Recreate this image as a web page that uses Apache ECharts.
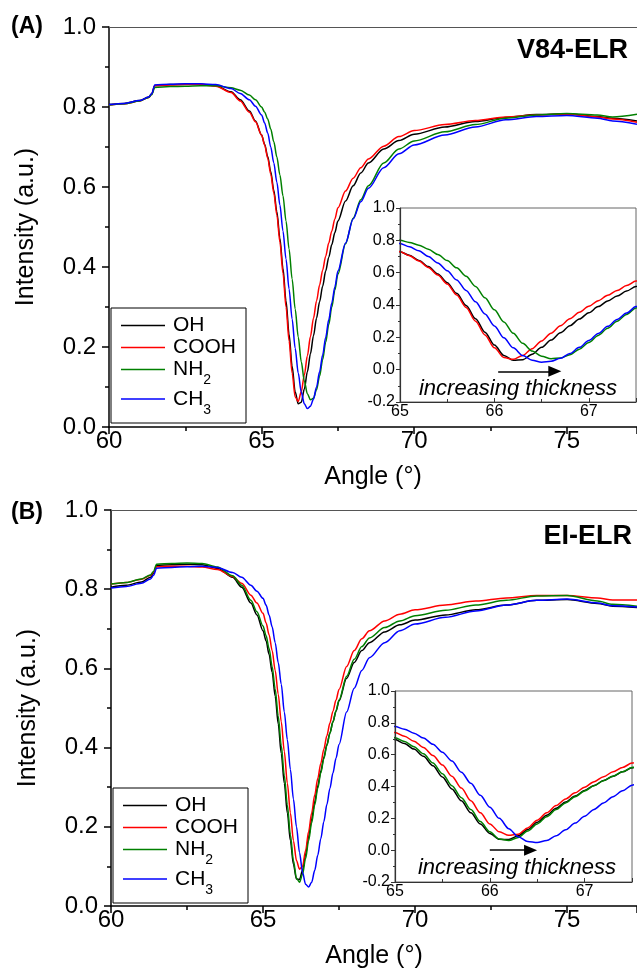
<!DOCTYPE html>
<html>
<head>
<meta charset="utf-8">
<script src="https://cdn.jsdelivr.net/npm/echarts@6/dist/echarts.min.js"></script>
<style>
html, body { margin: 0; padding: 0; background: #fff; }
#chartBox { width: 637px; height: 976px; }
</style>
</head>
<body>
<div id="chartBox"></div>
<script>
// angle grid (deg), dense around the resonance dip
var angles = [60, 60.5, 61, 61.3, 61.4, 61.5, 62, 62.5, 63, 63.5, 64, 64.3, 64.6, 64.8,
  65, 65.1, 65.2, 65.3, 65.4, 65.5, 65.6, 65.7, 65.8, 65.9, 66, 66.1, 66.2, 66.3, 66.4, 66.5,
  66.6, 66.7, 66.8, 66.9, 67, 67.1, 67.2, 67.3, 67.4, 67.5,
  67.75, 68, 68.25, 68.5, 69, 69.5, 70, 71, 72, 73, 74, 75, 76, 76.5, 77.3];

var names = ['OH', 'COOH', 'NH2', 'CH3'];
var colors = ['#000000', '#ff0000', '#008000', '#0000ff'];

// (A) V84-ELR
var ohA = [0.806, 0.809, 0.816, 0.825, 0.833, 0.854, 0.856, 0.857, 0.857, 0.853, 0.838, 0.818, 0.79, 0.765,
  0.73, 0.707, 0.676, 0.638, 0.592, 0.538, 0.472, 0.397, 0.315, 0.232, 0.152, 0.088, 0.058, 0.062, 0.095, 0.138,
  0.183, 0.228, 0.272, 0.313, 0.352, 0.39, 0.424, 0.456, 0.486, 0.515,
  0.565, 0.603, 0.635, 0.66, 0.695, 0.716, 0.732, 0.75, 0.764, 0.774, 0.781, 0.783, 0.776, 0.772, 0.765];
var coohA = [0.805, 0.808, 0.815, 0.824, 0.832, 0.853, 0.855, 0.856, 0.856, 0.852, 0.836, 0.815, 0.787, 0.763,
  0.73, 0.705, 0.672, 0.632, 0.585, 0.53, 0.462, 0.385, 0.3, 0.215, 0.135, 0.075, 0.064, 0.088, 0.13, 0.178,
  0.226, 0.272, 0.315, 0.355, 0.392, 0.427, 0.46, 0.49, 0.52, 0.548,
  0.59, 0.622, 0.648, 0.67, 0.702, 0.726, 0.741, 0.756, 0.766, 0.775, 0.78, 0.782, 0.775, 0.77, 0.762];
var nh2A = [0.805, 0.808, 0.815, 0.824, 0.831, 0.849, 0.851, 0.852, 0.853, 0.853, 0.848, 0.842, 0.83, 0.818,
  0.8, 0.787, 0.77, 0.745, 0.713, 0.675, 0.63, 0.578, 0.515, 0.445, 0.37, 0.295, 0.225, 0.163, 0.115, 0.083,
  0.068, 0.072, 0.093, 0.127, 0.168, 0.212, 0.256, 0.3, 0.342, 0.382,
  0.458, 0.522, 0.568, 0.603, 0.66, 0.695, 0.715, 0.738, 0.756, 0.772, 0.78, 0.784, 0.78, 0.775, 0.782];
var ch3A = [0.806, 0.809, 0.816, 0.825, 0.833, 0.855, 0.857, 0.858, 0.858, 0.856, 0.846, 0.834, 0.818, 0.802,
  0.78, 0.76, 0.735, 0.7, 0.66, 0.612, 0.555, 0.49, 0.42, 0.345, 0.27, 0.197, 0.135, 0.087, 0.058, 0.046,
  0.052, 0.07, 0.1, 0.138, 0.18, 0.224, 0.268, 0.31, 0.35, 0.39,
  0.46, 0.52, 0.563, 0.597, 0.648, 0.683, 0.705, 0.73, 0.75, 0.768, 0.776, 0.779, 0.772, 0.765, 0.757];

// (B) EI-ELR
var ohB = [0.805, 0.81, 0.818, 0.83, 0.84, 0.86, 0.862, 0.863, 0.862, 0.853, 0.83, 0.805, 0.765, 0.735,
  0.695, 0.67, 0.635, 0.59, 0.53, 0.46, 0.385, 0.31, 0.235, 0.165, 0.105, 0.068, 0.067, 0.09, 0.13, 0.175,
  0.22, 0.263, 0.303, 0.34, 0.375, 0.407, 0.437, 0.465, 0.492, 0.518,
  0.575, 0.615, 0.645, 0.665, 0.692, 0.71, 0.722, 0.735, 0.748, 0.76, 0.772, 0.774, 0.764, 0.757, 0.754];
var coohB = [0.813, 0.817, 0.825, 0.835, 0.843, 0.857, 0.858, 0.858, 0.856, 0.85, 0.832, 0.815, 0.785, 0.765,
  0.739, 0.715, 0.685, 0.645, 0.595, 0.535, 0.465, 0.39, 0.31, 0.235, 0.165, 0.115, 0.093, 0.1, 0.14, 0.188,
  0.235, 0.28, 0.322, 0.36, 0.396, 0.43, 0.462, 0.492, 0.52, 0.547,
  0.605, 0.645, 0.675, 0.695, 0.72, 0.737, 0.748, 0.76, 0.77, 0.778, 0.784, 0.784, 0.778, 0.773, 0.773];
var nh2B = [0.813, 0.817, 0.826, 0.836, 0.845, 0.863, 0.865, 0.866, 0.865, 0.856, 0.834, 0.81, 0.772, 0.743,
  0.707, 0.683, 0.65, 0.605, 0.548, 0.48, 0.405, 0.33, 0.255, 0.18, 0.115, 0.07, 0.06, 0.08, 0.12, 0.165,
  0.21, 0.255, 0.297, 0.336, 0.372, 0.405, 0.436, 0.465, 0.493, 0.52,
  0.58, 0.623, 0.655, 0.677, 0.703, 0.72, 0.733, 0.747, 0.76, 0.772, 0.783, 0.784, 0.77, 0.762, 0.757];
var ch3B = [0.803, 0.807, 0.815, 0.826, 0.835, 0.853, 0.855, 0.857, 0.858, 0.855, 0.842, 0.83, 0.81, 0.795,
  0.777, 0.76, 0.735, 0.705, 0.665, 0.615, 0.56, 0.49, 0.42, 0.345, 0.27, 0.2, 0.135, 0.085, 0.055, 0.048,
  0.06, 0.09, 0.128, 0.17, 0.213, 0.256, 0.297, 0.336, 0.373, 0.408,
  0.49, 0.55, 0.595, 0.627, 0.665, 0.695, 0.712, 0.729, 0.745, 0.76, 0.772, 0.775, 0.765, 0.758, 0.755];

var panelA = [ohA, coohA, nh2A, ch3A];
var panelB = [ohB, coohB, nh2B, ch3B];

// arrow "increasing thickness": [x start, x end, y]
var arrowA = [66.04, 66.64, -0.01];
var arrowB = [66.0, 66.43, 0.0];

var FONT = 'Liberation Sans, Arial, sans-serif';

function pairs(arr) {
  return angles.map(function (a, i) { return [a, arr[i]]; });
}

function legendText(name) {
  if (name === 'NH2') return '{a|NH}{s|2}';
  if (name === 'CH3') return '{a|CH}{s|3}';
  return '{a|' + name + '}';
}

function mainX(grid) {
  return {
    type: 'value', gridIndex: grid, min: 60, max: 77.3, interval: 5,
    axisLine: { show: true, onZero: false, lineStyle: { color: '#000', width: 1.5 } },
    axisTick: { show: true, length: 7, lineStyle: { color: '#000', width: 1.5 } },
    minorTick: { show: true, splitNumber: 2, length: 4, lineStyle: { color: '#000', width: 1.5 } },
    splitLine: { show: false },
    axisLabel: {
      fontSize: 24, color: '#000', fontFamily: FONT, margin: 2,
      formatter: function (v) { return v % 5 === 0 ? String(v) : ''; }
    },
    name: 'Angle (°)', nameLocation: 'middle', nameGap: 38,
    nameTextStyle: { fontSize: 25, color: '#000', fontFamily: FONT }
  };
}

function topX(grid) {
  return {
    type: 'value', gridIndex: grid, min: 60, max: 77.3, position: 'top',
    axisLine: { show: true, onZero: false, lineStyle: { color: '#555', width: 1.2 } },
    axisTick: { show: false }, axisLabel: { show: false }, splitLine: { show: false }
  };
}

function mainY(grid) {
  return {
    type: 'value', gridIndex: grid, min: 0, max: 1, interval: 0.2,
    axisLine: { show: true, onZero: false, lineStyle: { color: '#000', width: 1.5 } },
    axisTick: { show: true, length: 7, lineStyle: { color: '#000', width: 1.5 } },
    minorTick: { show: true, splitNumber: 2, length: 4, lineStyle: { color: '#000', width: 1.5 } },
    splitLine: { show: false },
    axisLabel: {
      fontSize: 24, color: '#000', fontFamily: FONT, margin: 13,
      formatter: function (v) { return v.toFixed(1); }
    },
    name: 'Intensity (a.u.)', nameLocation: 'middle', nameGap: 70, nameRotate: 90,
    nameTextStyle: { fontSize: 25, color: '#000', fontFamily: FONT }
  };
}

function insetX(grid) {
  return {
    type: 'value', gridIndex: grid, min: 65, max: 67.5, interval: 1, z: 6,
    axisLine: { show: true, onZero: false, lineStyle: { color: '#333', width: 1.2 } },
    axisTick: { show: true, inside: true, length: 4, lineStyle: { color: '#333' } },
    minorTick: { show: true, splitNumber: 2, length: 3, lineStyle: { color: '#333' } },
    splitLine: { show: false },
    axisLabel: {
      fontSize: 16, color: '#000', fontFamily: FONT, margin: 2,
      formatter: function (v) { return v % 1 === 0 ? String(v) : ''; }
    }
  };
}

function insetY(grid) {
  return {
    type: 'value', gridIndex: grid, min: -0.2, max: 1, interval: 0.2, z: 6,
    axisLine: { show: true, onZero: false, lineStyle: { color: '#333', width: 1.2 } },
    axisTick: { show: true, length: 4, lineStyle: { color: '#333' } },
    minorTick: { show: true, splitNumber: 2, length: 2, lineStyle: { color: '#333' } },
    splitLine: { show: false },
    axisLabel: {
      fontSize: 16, color: '#000', fontFamily: FONT, margin: 5,
      formatter: function (v) { return v.toFixed(1); }
    }
  };
}

function legendBox(left, top) {
  return {
    data: names, orient: 'vertical', left: left, top: top, selectedMode: false,
    icon: 'rect', itemWidth: 44, itemHeight: 1.5, itemGap: 1,
    padding: [7, 10, 6, 10],
    borderColor: '#000', borderWidth: 1, backgroundColor: '#fff',
    formatter: legendText,
    textStyle: {
      color: '#000', fontFamily: FONT, fontSize: 21,
      rich: {
        a: { fontSize: 21, lineHeight: 23, fontFamily: FONT, color: '#000', padding: [0, 0, 0, 3] },
        s: { fontSize: 14, fontFamily: FONT, color: '#000', padding: [11, 0, -11, 0] }
      }
    }
  };
}

var series = [];
function addPanel(data, mainXi, mainYi, insXi, insYi, arrow) {
  data.forEach(function (arr, k) {
    series.push({
      name: names[k], type: 'line', xAxisIndex: mainXi, yAxisIndex: mainYi,
      data: pairs(arr), symbol: 'none', smooth: 0.3, smoothMonotone: 'x', z: 2,
      lineStyle: { color: colors[k], width: 1.5 }, itemStyle: { color: colors[k] }
    });
  });
  data.forEach(function (arr, k) {
    var s = {
      name: names[k], type: 'line', xAxisIndex: insXi, yAxisIndex: insYi,
      data: pairs(arr), symbol: 'none', smooth: 0.3, smoothMonotone: 'x', z: 5,
      lineStyle: { color: colors[k], width: 1.5 }, itemStyle: { color: colors[k] }
    };
    if (k === 0) {
      s.markLine = {
        silent: true, symbol: ['none', 'triangle'], symbolSize: [11, 13],
        lineStyle: { color: '#000', width: 1.5, type: 'solid' },
        label: { show: false },
        data: [[{ coord: [arrow[0], arrow[2]] }, { coord: [arrow[1], arrow[2]] }]]
      };
    }
    series.push(s);
  });
}
addPanel(panelA, 0, 0, 2, 1, arrowA);
addPanel(panelB, 3, 2, 5, 3, arrowB);

var chart = echarts.init(document.getElementById('chartBox'), null, { renderer: 'canvas' });
chart.setOption({
  backgroundColor: '#fff',
  animation: false,
  grid: [
    { left: 109, top: 27, width: 528, height: 400, outerBoundsMode: 'none' },
    { left: 400, top: 208, width: 236, height: 194, outerBoundsMode: 'none' },
    { left: 111, top: 510, width: 526, height: 396, outerBoundsMode: 'none' },
    { left: 395, top: 691, width: 237, height: 191, outerBoundsMode: 'none' }
  ],
  xAxis: [mainX(0), topX(0), insetX(1), mainX(2), topX(2), insetX(3)],
  yAxis: [mainY(0), insetY(1), mainY(2), insetY(3)],
  legend: [legendBox(111, 308), legendBox(113, 788)],
  graphic: [
    { type: 'rect', z: 3, shape: { x: 400, y: 208, width: 236, height: 194 },
      style: { fill: '#fff', stroke: '#666', lineWidth: 1 } },
    { type: 'rect', z: 3, shape: { x: 395, y: 691, width: 237, height: 191 },
      style: { fill: '#fff', stroke: '#666', lineWidth: 1 } },
    { type: 'text', z: 10, x: 11, y: 27,
      style: { text: '(A)', font: 'bold 23px ' + FONT, fill: '#000', verticalAlign: 'middle' } },
    { type: 'text', z: 10, x: 11, y: 513,
      style: { text: '(B)', font: 'bold 23px ' + FONT, fill: '#000', verticalAlign: 'middle' } },
    { type: 'text', z: 10, x: 628, y: 51,
      style: { text: 'V84-ELR', font: 'bold 27px ' + FONT, fill: '#000', align: 'right', verticalAlign: 'middle' } },
    { type: 'text', z: 10, x: 632, y: 537,
      style: { text: 'EI-ELR', font: 'bold 27px ' + FONT, fill: '#000', align: 'right', verticalAlign: 'middle' } },
    { type: 'text', z: 10, x: 518, y: 389,
      style: { text: 'increasing thickness', font: 'italic 22px ' + FONT, fill: '#000', align: 'center', verticalAlign: 'middle' } },
    { type: 'text', z: 10, x: 517, y: 868,
      style: { text: 'increasing thickness', font: 'italic 22px ' + FONT, fill: '#000', align: 'center', verticalAlign: 'middle' } }
  ],
  series: series
});
</script>
</body>
</html>
